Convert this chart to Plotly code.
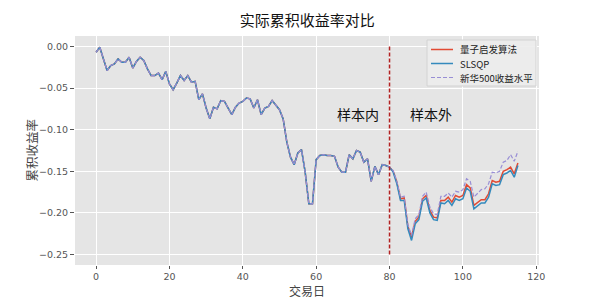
import plotly.graph_objects as go

days = list(range(116))

quantum = [
    -0.007, -0.001, -0.015, -0.029, -0.023, -0.021, -0.015, -0.019, -0.019, -0.013,
    -0.026, -0.018, -0.013, -0.017, -0.027, -0.035, -0.035, -0.032, -0.040, -0.030,
    -0.045, -0.052, -0.044, -0.035, -0.041, -0.035, -0.043, -0.042, -0.064, -0.057,
    -0.074, -0.087, -0.073, -0.075, -0.065, -0.066, -0.074, -0.082, -0.073, -0.068,
    -0.066, -0.062, -0.063, -0.074, -0.064, -0.082, -0.074, -0.072, -0.065, -0.071,
    -0.076, -0.087, -0.115, -0.133, -0.142, -0.128, -0.124, -0.151, -0.189, -0.189,
    -0.136, -0.131, -0.130, -0.131, -0.131, -0.132, -0.145, -0.151, -0.151, -0.130,
    -0.135, -0.125, -0.127, -0.139, -0.135, -0.162, -0.144, -0.154, -0.142, -0.143,
    -0.145, -0.150, -0.163, -0.183, -0.182, -0.216, -0.229, -0.210, -0.205, -0.183,
    -0.179, -0.197, -0.205, -0.206, -0.185, -0.185, -0.181, -0.187, -0.179, -0.181,
    -0.179, -0.166, -0.170, -0.191, -0.187, -0.184, -0.184, -0.177, -0.161, -0.163,
    -0.162, -0.150, -0.148, -0.145, -0.153, -0.140,
]

slsqp = quantum[:81] + [
    -0.151, -0.165, -0.185, -0.185, -0.219, -0.233, -0.213, -0.208, -0.186,
    -0.182, -0.200, -0.208, -0.209, -0.188, -0.189, -0.185, -0.191, -0.183, -0.185,
    -0.183, -0.170, -0.174, -0.195, -0.191, -0.188, -0.188, -0.181, -0.165, -0.167,
    -0.166, -0.154, -0.152, -0.149, -0.157, -0.143,
]

xinhua500 = quantum[:81] + [
    -0.149, -0.162, -0.181, -0.180, -0.214, -0.227, -0.207, -0.202, -0.180,
    -0.175, -0.193, -0.201, -0.202, -0.180, -0.180, -0.176, -0.181, -0.174, -0.175,
    -0.172, -0.159, -0.162, -0.181, -0.176, -0.172, -0.171, -0.165, -0.151, -0.152,
    -0.150, -0.139, -0.137, -0.130, -0.138, -0.126,
]

series_names = ["量子启发算法", "SLSQP", "新华500收益水平"]
series_colors = ["#E24A33", "#348ABD", "#988ED5"]
series_dash = ["solid", "solid", "4px,2px"]
series_width = [1.5, 1.5, 1.2]
split_day = 80
vline_range = [-0.25, 0.0]
x_ticks = [0, 20, 40, 60, 80, 100, 120]
y_ticks = [0.0, -0.05, -0.10, -0.15, -0.20, -0.25]
y_ticklabels = ["0.00", "−0.05", "−0.10", "−0.15", "−0.20", "−0.25"]

CJK = "Noto Sans CJK SC"
TICKFONT = "DejaVu Sans"

# plot area in pixels (for placing legend box / titles)
L, R, T, B = 75, 539, 36, 265
def px(xp):
    return (xp - L) / (R - L)
def py(yp):
    return (B - yp) / (B - T)

fig = go.Figure()
for vals, name, col, dash, w in zip([quantum, slsqp, xinhua500], series_names,
                                    series_colors, series_dash, series_width):
    fig.add_trace(go.Scatter(x=days, y=vals, mode="lines", name=name,
                             line=dict(color=col, width=w, dash=dash), showlegend=False))

fig.add_shape(type="line", xref="x", yref="y", x0=split_day, x1=split_day,
              y0=vline_range[0], y1=vline_range[1],
              line=dict(color="#B22222", width=1.5, dash="4px,2px"))

fig.add_annotation(x=65, y=-0.0815, xref="x", yref="y", text="样本内", showarrow=False,
                   xanchor="left", yanchor="middle", font=dict(family=CJK, size=14, color="#111"))
fig.add_annotation(x=85, y=-0.0815, xref="x", yref="y", text="样本外", showarrow=False,
                   xanchor="left", yanchor="middle", font=dict(family=CJK, size=14, color="#111"))

# axis titles
fig.add_annotation(x=0.5, y=py(290.5), xref="paper", yref="paper", text="交易日", showarrow=False,
                   xanchor="center", yanchor="middle", borderpad=0,
                   font=dict(family=CJK, size=12, color="#444"))
fig.add_annotation(x=px(31), y=0.5, xref="paper", yref="paper", text="累积收益率", showarrow=False,
                   textangle=-90, xanchor="center", yanchor="middle",
                   font=dict(family=CJK, size=12.5, color="#444"))

# legend drawn manually (compact, matplotlib-like)
fig.add_shape(type="rect", xref="paper", yref="paper", x0=px(427), x1=px(536), y0=py(40), y1=py(86),
              line=dict(color="#d2d2d2", width=1), fillcolor="rgba(236,236,236,0.9)", layer="above")
for k, (name, col, dash, w) in enumerate(zip(series_names, series_colors, series_dash, series_width)):
    yy = 49.5 + 14 * k
    fig.add_shape(type="line", xref="paper", yref="paper", x0=px(431), x1=px(453),
                  y0=py(yy), y1=py(yy), line=dict(color=col, width=w, dash=dash), layer="above")
    fig.add_annotation(x=px(459), y=py(yy), xref="paper", yref="paper", text=name, showarrow=False,
                       xanchor="left", yanchor="middle", borderpad=0,
                       font=dict(family=CJK, size=9.5, color="#222"))

fig.update_layout(
    width=600, height=300,
    margin=dict(l=L, r=600 - R, t=T, b=300 - B),
    paper_bgcolor="white",
    plot_bgcolor="#E5E5E5",
    font=dict(family=CJK, size=10, color="#555"),
    title=dict(text="实际累积收益率对比", x=0.512, xanchor="center", y=0.93, yanchor="middle",
               yref="container", font=dict(family=CJK, size=15, color="#111")),
    showlegend=False,
)
fig.update_xaxes(range=[-5.75, 120.75], tickvals=x_ticks, showgrid=True, gridcolor="white",
                 gridwidth=1, zeroline=False, ticks="outside", ticklen=3, tickcolor="#555",
                 showline=False, tickfont=dict(family=TICKFONT, size=9.5, color="#555"))
fig.update_yaxes(range=[-0.2625, 0.0125], tickvals=y_ticks, ticktext=y_ticklabels, showgrid=True,
                 gridcolor="white", gridwidth=1, zeroline=False, ticks="outside", ticklen=4,
                 tickcolor="#555", showline=False, tickfont=dict(family=TICKFONT, size=9.5, color="#555"))

fig.write_html("out.html")
